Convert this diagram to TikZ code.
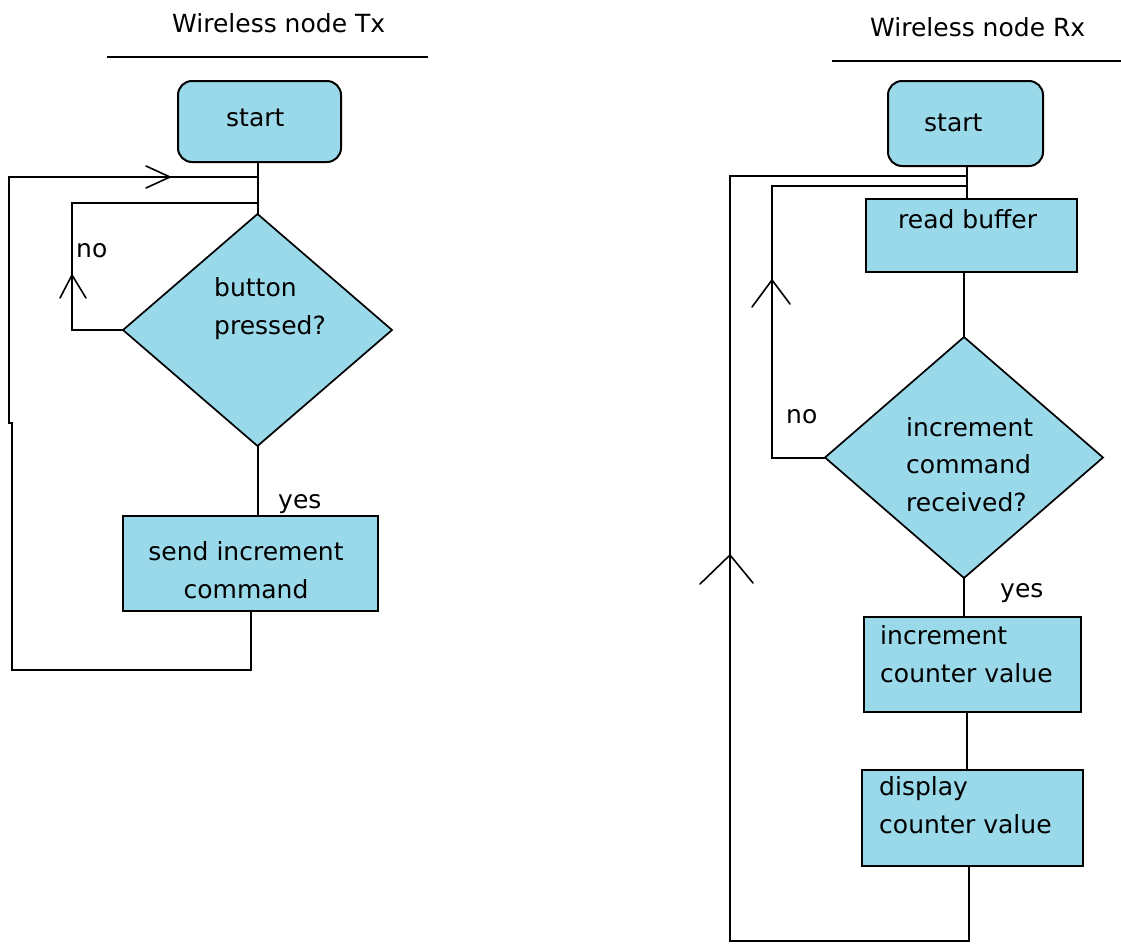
\documentclass[tikz,border=0pt]{standalone}
\usepackage{fontspec}
\setmainfont{DejaVu Sans}
\usetikzlibrary{shapes.geometric}
\definecolor{boxblue}{RGB}{153,217,234}
\tikzset{
  flow/.style={draw=black, line width=2pt, fill=boxblue, inner sep=0pt, outer sep=0pt},
  procbox/.style={flow, rectangle},
  startbox/.style={flow, rectangle, rounded corners=14pt},
  decision/.style={flow, diamond, line width=1.7pt},
  txt/.style={inner sep=0pt, align=left, font=\fontsize{25}{37.5}\selectfont},
  wire/.style={line width=2pt},
  wing/.style={line width=1.6pt, line cap=round},
}
\begin{document}
\begin{tikzpicture}[x=1pt, y=-1pt]
\useasboundingbox (0,0) rectangle (1121,943);

% ---------------- transmitter ----------------
\node[txt, anchor=base west] (txtitle) at (172,32) {Wireless node Tx};
\coordinate (txruleL) at (107,57);
\coordinate (txruleR) at (428,57);
\draw[wire] (txruleL) -- (txruleR);

\node[startbox, minimum width=163pt, minimum height=81pt] (start1) at (259.5,121.5) {};
\node[txt, anchor=base west] (start1txt) at (226,126) {start};

\node[decision, minimum width=269pt, minimum height=232pt] (dec1) at (257.5,330) {};
% multi-line texts are placed by the baseline of their last line
\node[txt, anchor=base west] (dec1txt) at (214,334) {button\\pressed?};

\node[procbox, minimum width=255pt, minimum height=95pt] (send) at (250.5,563.5) {};
\node[txt, align=center, anchor=base] (sendtxt) at (246,598) {send increment\\command};

\node[txt, anchor=base west] (txno) at (76,257) {no};
\node[txt, anchor=base west] (txyes) at (278,508) {yes};

% main path
\draw[wire] (dec1.north |- start1.south) -- (dec1.north);
\draw[wire] (dec1.south) -- (dec1.south |- send.north);

% "no" loop back above the decision
\coordinate (txnojoin) at (258,203);
\coordinate (txnocorner) at (72,203);
\draw[wire] (dec1.west) -| (txnocorner) -- (txnojoin);
\coordinate (txnotip) at (72,275);
\draw[wing] (60,298) -- (txnotip) -- (86,298);

% return loop from the send box to the top
\coordinate (txretjoin) at (258,177);
\coordinate (txretBL) at (12,670);
\draw[wire] (send.south) |- (txretBL) -- (12,423) -- (9,423) |- (txretjoin);
\coordinate (txrettip) at (170,177);
\draw[wing] (146,166) -- (txrettip) -- (146,188);

% ---------------- receiver ----------------
\node[txt, anchor=base west] (rxtitle) at (870,36) {Wireless node Rx};
\coordinate (rxruleL) at (832,61);
\coordinate (rxruleR) at (1121,61);
\draw[wire] (rxruleL) -- (rxruleR);

\node[startbox, minimum width=155pt, minimum height=85pt] (start2) at (965.5,123.5) {};
\node[txt, anchor=base west] (start2txt) at (924,131) {start};

\node[procbox, minimum width=211pt, minimum height=73pt] (read) at (971.5,235.5) {};
\node[txt, anchor=base west] (readtxt) at (898,228) {read buffer};

\node[decision, minimum width=278pt, minimum height=241pt] (dec2) at (964,457.5) {};
\node[txt, anchor=base west] (dec2txt) at (906,511) {increment\\command\\received?};

\node[procbox, minimum width=217pt, minimum height=95pt] (inc) at (972.5,664.5) {};
\node[txt, anchor=base west] (inctxt) at (880,682) {increment\\counter value};

\node[procbox, minimum width=221pt, minimum height=96pt] (disp) at (972.5,818) {};
\node[txt, anchor=base west] (disptxt) at (879,833) {display\\counter value};

\node[txt, anchor=base west] (rxno) at (786,423) {no};
\node[txt, anchor=base west] (rxyes) at (1000,597) {yes};

% main path
\coordinate (rxx1) at (967,0);
\draw[wire] (rxx1 |- start2.south) -- (rxx1 |- read.north);
\draw[wire] (dec2.north |- read.south) -- (dec2.north);
\draw[wire] (dec2.south) -- (dec2.south |- inc.north);
\draw[wire] (rxx1 |- inc.south) -- (rxx1 |- disp.north);

% "no" loop back above the read step
\coordinate (rxnojoin) at (967,186);
\coordinate (rxnocorner) at (772,186);
\draw[wire] (dec2.west) -| (rxnocorner) -- (rxnojoin);
\coordinate (rxnotip) at (772,280);
\draw[wing] (752,307) -- (rxnotip) -- (790,304);

% return loop from the display box to the top
\coordinate (rxretjoin) at (967,176);
\coordinate (rxretBL) at (730,941);
\coordinate (rxx2) at (969,0);
\draw[wire] (rxx2 |- disp.south) |- (rxretBL) |- (rxretjoin);
\coordinate (rxrettip) at (730,555);
\draw[wing] (700,584) -- (rxrettip) -- (753,583);
\end{tikzpicture}
\end{document}
